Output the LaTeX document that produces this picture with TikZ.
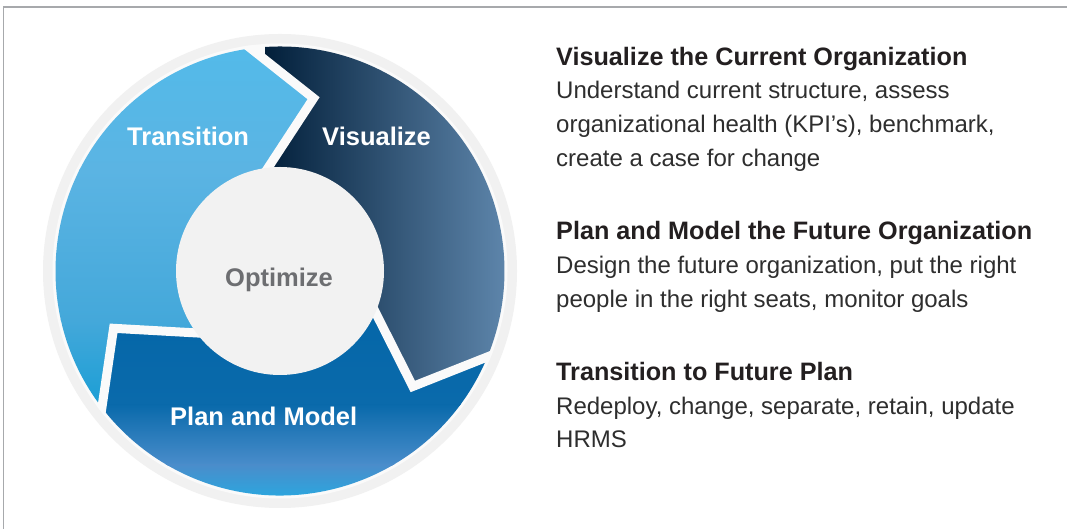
\documentclass[tikz,border=0pt]{standalone}
\usepackage{fontspec}
\usetikzlibrary{calc}
\setmainfont{Liberation Sans}
\definecolor{ringgray}{HTML}{F1F1F1}
\definecolor{gapwhite}{HTML}{FAFAFA}
\definecolor{innergray}{HTML}{F2F2F2}
\definecolor{optgray}{HTML}{6D6E71}
\definecolor{framegray}{HTML}{A7A9AC}
\definecolor{titlecol}{HTML}{231F20}
\definecolor{bodycol}{HTML}{2E2E2E}
\definecolor{tA}{HTML}{52BBEA}
\definecolor{tB}{HTML}{5BB4E3}
\definecolor{tC}{HTML}{44A8DA}
\definecolor{tD}{HTML}{0A9AD3}
\definecolor{vA}{HTML}{021F3A}
\definecolor{vB}{HTML}{6088AE}
\definecolor{pA}{HTML}{0466A8}
\definecolor{pB}{HTML}{0A6AAB}
\definecolor{pC}{HTML}{4A8DCB}
\definecolor{pD}{HTML}{25ABE2}
\newcommand\segpath[1]{(#1:224.5) arc[start angle=#1, end angle=#1-120, radius=224.5] -- (#1-138.5:176) -- (#1-120:102) arc[start angle=#1-120, end angle=#1, radius=102] -- (#1-18.5:176) -- cycle}
\tikzset{
  gapline/.style={line width=9pt, draw=gapwhite, line join=miter},
  seglabel/.style={anchor=base west, inner sep=0pt, text=white, font=\bfseries\fontsize{25.5}{30}\selectfont},
  headline/.style={anchor=base west, inner sep=0pt, text=titlecol, font=\bfseries\fontsize{25.2}{30}\selectfont},
  bodyline/.style={anchor=base west, inner sep=0pt, text=bodycol, font=\fontsize{24}{30}\selectfont},
}
\begin{document}
\begin{tikzpicture}[x=1pt,y=1pt]
\useasboundingbox (0,0) rectangle (1067,529);
\fill[white] (0,0) rectangle (1067,529);
\draw[line width=1.2pt, framegray] (3.5,0) -- (3.5,522) -- (1067,522);
\begin{scope}[shift={(280,258)}]
  \fill[ringgray] (0,0) circle (237);
  \fill[gapwhite] (0,0) circle (227.5);
  % Transition
  \begin{scope}
    \clip \segpath{217.5};
    \shade[top color=tA, bottom color=tB] (-240,100.5) rectangle (70,240);
    \shade[top color=tB, bottom color=tC] (-240,-49.5) rectangle (70,101);
    \shade[top color=tC, bottom color=tD] (-240,-170) rectangle (70,-49);
  \end{scope}
  % Visualize
  \begin{scope}
    \clip \segpath{97.5};
    \shade[left color=vA, right color=vB] (-15,-140) rectangle (232,240);
  \end{scope}
  % Plan and Model
  \begin{scope}
    \clip \segpath{-22.5};
    \shade[top color=pA, bottom color=pB] (-240,-134.5) rectangle (240,-30);
    \shade[top color=pB, bottom color=pC] (-240,-194.5) rectangle (240,-134);
    \shade[top color=pC, bottom color=pD] (-240,-232) rectangle (240,-194);
  \end{scope}
  \begin{scope}
    \clip (0,0) circle (227.5);
    \foreach \a in {97.5,-22.5,217.5}{
      \coordinate (tip) at (\a-18.5:176);
      \draw[gapline] ($(tip)!1.4!(\a:224.5)$) -- (tip) -- ($(tip)!1.2!(\a:102)$);
    }
  \end{scope}
  \fill[innergray] (0,0) circle (104);
\end{scope}
\node[seglabel] (transition) at (127,383) {Transition};
\node[seglabel] (visualize) at (322,383) {Visualize};
\node[seglabel] (plan) at (170,103) {Plan and Model};
\node[seglabel, text=optgray] (optimize) at (225,242) {Optimize};
\node[headline] (h1) at (556,463) {Visualize the Current Organization};
\node[bodyline] (b11) at (556,430) {Understand current structure, assess};
\node[bodyline] (b12) at (556,396) {organizational health (KPI’s), benchmark,};
\node[bodyline] (b13) at (556,362) {create a case for change};
\node[headline] (h2) at (556,289) {Plan and Model the Future Organization};
\node[bodyline] (b21) at (556,255) {Design the future organization, put the right};
\node[bodyline] (b22) at (556,221) {people in the right seats, monitor goals};
\node[headline] (h3) at (556,148) {Transition to Future Plan};
\node[bodyline] (b31) at (556,114) {Redeploy, change, separate, retain, update};
\node[bodyline] (b32) at (556,81) {HRMS};
\end{tikzpicture}
\end{document}
